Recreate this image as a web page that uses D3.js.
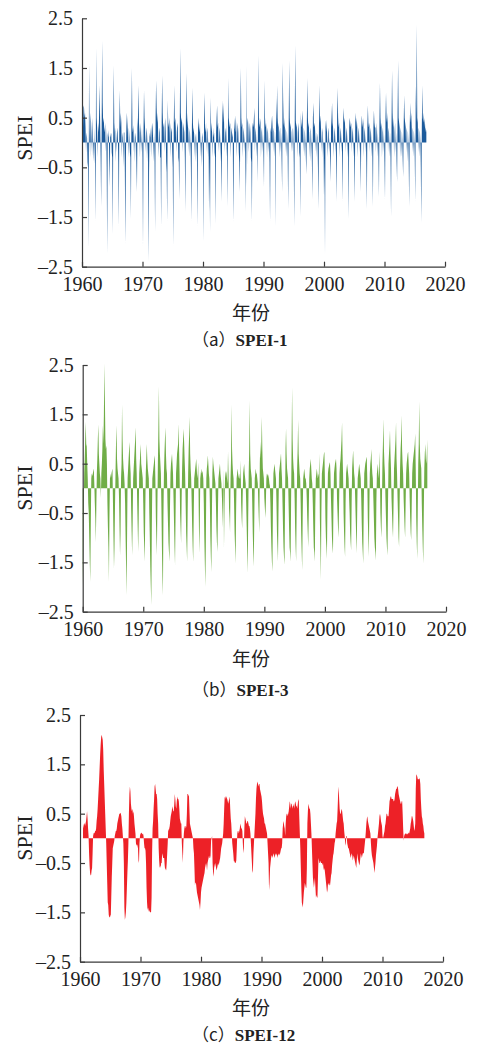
<!DOCTYPE html>
<html><head><meta charset="utf-8">
<script src="https://cdn.jsdelivr.net/npm/d3@7"></script>
<style>body{margin:0;background:#fff}svg{display:block}</style>
</head><body>
<svg id="c" width="477" height="1047"></svg>
<script>
// ---------- data ----------
const startYear = 1960;           // monthly series, Jan 1960 .. Dec 2016
const xTicks = [1960, 1970, 1980, 1990, 2000, 2010, 2020];
const yTicks = [-2.5, -1.5, -0.5, 0.5, 1.5, 2.5];
const xLabel = "年份";
const yLabel = "SPEI";
const captions = ["（a）SPEI-1", "（b）SPEI-3", "（c）SPEI-12"];

const spei1 = [
-1.6,-0.3,0.3,0.75,0.7,0.5,0.6,0.3,-0.2,0.2,0.1,-0.4,
-0.5,-2.15,1.6,0.3,-0.3,0.6,0.4,-0.2,0.5,0.2,-0.4,0.1,
-0.45,0.3,-0.5,-1.6,1.9,0.5,0.3,-0.3,0.4,0.2,0.6,1.15,
0.4,-0.3,-1.3,0.3,2.05,0.8,0.4,0.5,0.3,0.2,0.4,-0.2,
0.3,-0.5,-2.25,0.2,0.1,0.25,-0.3,-0.9,0.2,0.1,0.2,-0.2,
-0.3,-1.85,0.2,1.55,0.4,0.2,-0.4,0.3,0.1,-0.2,0.3,0.2,
-0.4,-1.7,0.3,1.05,0.3,0.6,0.4,-0.3,0.2,0.1,-0.5,0.2,
0.2,-0.6,-2.05,-0.4,0.3,0.6,0.4,0.2,-0.3,0.3,0.1,-0.2,
-0.3,-1.55,0.4,1.5,0.3,0.2,0.35,-0.2,0.2,-0.4,0.2,0.1,
-0.5,-1.0,0.3,0.5,1.15,0.4,0.2,-0.3,0.4,0.2,-0.2,0.3,
-0.3,-2.1,0.2,1.05,0.5,0.3,-0.2,0.2,0.3,-0.4,0.2,-0.3,
-2.4,-0.6,0.2,0.1,0.3,-0.3,0.2,0.4,0.3,0.1,-0.4,0.2,
-0.4,-1.8,0.5,1.25,0.7,0.4,0.6,0.2,-0.3,0.3,0.2,-0.3,
-0.3,-1.7,0.4,1.35,0.6,0.3,0.4,-0.2,0.3,0.5,0.2,-0.4,
-0.6,-1.6,0.85,0.4,0.3,0.5,0.2,-0.3,0.4,0.2,0.3,-0.2,
-0.5,-2.1,0.3,1.15,0.4,0.5,0.3,-0.2,0.2,0.4,0.3,-0.3,
-0.4,-1.15,0.5,1.9,0.6,0.4,0.5,0.3,-0.2,0.4,0.3,0.2,
-0.3,-1.4,0.4,1.4,0.5,0.3,0.6,-0.2,0.3,0.2,-0.3,0.2,
-0.5,-1.6,0.3,1.1,0.4,0.2,0.3,-0.3,0.2,0.1,-0.4,0.2,
-0.3,-1.7,0.2,0.5,0.3,0.2,0.4,-0.3,0.2,-0.5,0.1,0.2,
-0.4,-2.0,0.4,1.0,0.3,0.2,0.4,-0.2,0.3,0.2,-0.3,0.1,
-1.4,-0.3,-1.8,0.9,0.4,0.3,0.2,-0.3,0.3,0.1,0.2,-0.2,
-0.3,-1.65,0.2,0.5,0.75,0.3,0.4,-0.2,0.2,0.3,-0.4,0.2,
-0.4,-1.2,0.3,0.85,0.4,0.8,0.3,-0.2,0.3,0.2,-0.3,0.4,
-0.3,-1.3,1.3,0.5,0.4,0.3,0.4,-0.3,0.2,0.3,0.1,0.2,
-1.6,-0.5,0.5,0.3,0.2,0.55,0.3,-0.3,0.2,0.4,0.2,-0.2,
-0.4,-1.0,0.3,1.5,0.5,0.3,0.4,-0.3,0.2,0.3,-0.2,0.2,
-0.3,-1.4,1.55,-0.9,0.4,0.5,0.3,-0.2,0.2,0.4,0.2,-0.3,
-0.4,-1.6,0.3,0.4,0.3,0.5,0.7,-0.2,0.3,0.2,-0.3,0.2,
-0.8,0.3,1.75,0.4,0.3,0.5,0.4,-0.3,0.2,0.3,-0.2,0.2,
-0.3,-0.9,1.25,0.5,0.3,0.4,0.2,-0.3,0.3,0.2,-0.2,0.1,
-0.4,-1.6,0.3,0.2,0.4,0.55,0.3,-0.2,0.3,0.2,-0.3,0.2,
-1.7,0.9,0.3,1.15,0.5,0.3,0.4,-0.3,0.2,0.3,-0.2,0.2,
-0.4,-1.0,1.6,0.85,0.4,0.3,0.5,-0.2,0.3,0.2,-0.3,0.2,
-0.3,-1.35,0.4,1.65,0.5,0.3,0.4,-0.2,0.2,0.3,-0.2,0.3,
-0.4,-1.7,0.5,1.95,0.45,0.3,0.4,-0.3,0.2,0.4,0.2,-0.2,
-0.3,-1.5,0.6,0.3,0.4,0.65,0.3,-0.2,0.3,0.2,-0.3,0.2,
-0.3,-0.65,0.4,1.3,0.5,0.3,0.4,-0.3,0.2,0.3,-0.4,0.2,
-0.4,-1.15,0.5,0.8,0.3,0.4,0.3,-0.2,0.3,-0.3,0.2,0.1,
-0.5,-1.35,0.3,1.15,0.4,0.55,0.3,-0.2,0.3,0.2,-0.3,0.1,
-1.1,-0.3,-2.25,0.3,0.46,0.3,0.2,-0.3,0.2,0.3,-0.2,0.1,
-0.3,-0.8,0.3,0.5,0.8,0.4,0.3,-0.3,0.2,0.3,-0.2,0.2,
-0.4,-1.2,0.5,1.1,0.5,0.3,0.4,-0.3,0.2,0.3,-0.2,0.2,
-0.3,-1.2,0.4,0.7,0.4,0.5,0.3,-0.2,0.3,0.2,-0.3,0.2,
-0.3,-1.55,0.3,0.5,0.4,0.3,0.4,-0.2,0.3,0.2,-0.3,0.2,
-0.4,-1.2,0.4,0.6,0.3,0.5,0.3,-0.3,0.2,0.3,-0.2,0.2,
-0.3,-1.0,0.3,0.55,0.4,0.3,0.5,-0.3,0.2,0.3,-0.2,0.2,
-0.4,-1.35,0.3,0.75,0.4,0.3,0.4,-0.2,0.3,0.2,-0.3,0.2,
-0.3,-1.3,0.3,0.65,0.4,0.3,0.3,-0.2,0.2,0.4,-0.3,0.2,
-0.3,-1.1,0.4,1.2,0.5,0.3,0.4,-0.3,0.2,0.3,-0.2,0.2,
-0.4,-1.15,0.5,1.0,0.5,0.4,0.6,-0.2,0.3,0.2,-0.3,0.2,
-0.3,-1.5,0.4,1.45,0.6,0.3,0.5,-0.3,0.2,0.4,-0.2,0.2,
-0.4,-0.8,0.6,1.65,0.5,0.4,0.3,-0.3,0.3,0.2,-0.3,0.2,
-0.3,-0.7,0.3,0.95,0.5,0.4,0.3,-0.2,0.3,0.2,-0.4,0.2,
-0.4,-1.3,0.3,0.8,0.4,0.6,0.3,-0.2,0.3,0.2,-0.3,0.2,
-0.3,-1.2,1.15,0.4,2.37,0.5,0.4,-0.2,0.3,0.2,-0.3,0.2,
-0.5,-1.62,0.3,1.15,0.5,0.4,0.6,0.3,0.5,0.2,0.3,0.2
];

const spei3 = [
-2.0,-1.2,-0.4,0.3,0.6,1.0,1.35,0.9,0.85,0.5,0.2,-0.3,
-0.5,-1.0,-1.5,-1.9,-0.8,0.2,0.3,0.25,0.3,0.35,0.4,0.1,
-0.3,-0.6,-1.1,-0.4,0.3,0.6,1.0,1.3,0.7,0.5,0.3,0.2,
-0.2,0.3,0.5,0.8,1.28,0.9,1.5,2.53,1.8,1.0,0.8,0.87,
0.5,-0.3,-0.8,-1.2,-1.9,-0.6,0.2,0.3,0.2,0.3,0.35,0.4,
-0.3,-1.0,-1.63,-1.2,-0.4,0.3,0.9,1.28,0.6,0.4,0.3,0.2,
-0.2,-0.8,-1.36,-0.9,0.2,0.5,1.7,1.0,0.6,0.4,0.3,0.1,
-0.3,-1.0,-1.6,-2.17,-0.9,0.2,0.4,0.6,0.8,0.94,0.5,0.3,
-0.4,-0.9,-1.36,-0.7,0.2,0.4,0.6,0.8,1.0,1.24,0.6,0.3,
-0.3,-0.8,-1.29,-0.6,0.3,0.5,0.7,0.9,0.5,0.4,0.3,0.2,
-0.3,-0.9,-1.2,-1.49,-0.5,0.3,0.6,0.9,0.6,0.4,0.3,0.2,
-0.5,-1.0,-1.6,-2.0,-2.37,-0.8,0.2,0.3,0.4,0.5,0.6,0.67,
0.2,-0.6,-1.0,-1.36,-0.4,0.5,1.2,2.07,1.0,0.7,0.5,0.3,
-0.4,-1.2,-1.8,-2.17,-0.6,0.3,0.7,1.0,1.24,0.7,0.4,0.3,
-0.3,-0.7,-1.1,-1.3,-1.49,-0.4,0.3,0.5,0.6,0.7,0.5,0.3,
-0.2,-0.7,-1.2,-1.56,-0.6,0.3,0.5,0.7,0.8,0.9,1.31,0.8,
0.3,-0.5,-0.8,-1.12,-0.3,0.4,0.8,1.0,1.21,0.94,0.6,0.3,
-0.3,-0.9,-1.2,-1.49,-0.5,0.3,0.8,1.1,1.45,0.7,0.4,0.2,
-0.3,-0.8,-1.2,-1.5,-0.6,0.2,0.3,0.4,0.5,0.6,0.4,0.2,
0.3,0.53,-0.5,-1.32,-0.8,0.2,0.3,0.4,0.3,0.35,0.3,0.2,
-0.3,-1.0,-1.5,-2.0,-1.2,0.2,0.4,0.5,0.67,0.5,0.3,0.2,
-0.3,-1.0,-1.4,-1.7,-0.6,0.3,0.64,0.5,0.4,0.3,0.2,0.1,
-0.3,-0.8,-1.1,-1.29,-0.5,0.2,0.3,0.4,0.5,0.3,0.2,0.1,
-0.2,-0.5,-0.8,0.4,-1.22,-0.4,0.2,0.3,0.35,0.3,0.2,0.1,
0.74,0.3,-0.4,-0.6,-0.89,0.2,0.6,1.7,0.8,0.5,0.3,0.2,
-0.3,-0.9,-1.2,-1.53,-0.5,0.2,0.3,0.4,0.3,0.2,0.3,0.2,
0.2,0.57,-0.3,-0.6,-0.82,-0.2,0.3,0.4,0.5,0.3,0.2,0.1,
-0.3,-0.8,-1.3,-1.72,-0.6,0.3,0.8,1.78,0.7,0.4,0.3,0.2,
-0.3,-0.9,-1.3,-1.59,-0.7,0.2,0.3,0.4,0.3,0.3,0.2,0.1,
-0.3,-0.6,-0.9,0.5,0.95,0.6,0.9,1.45,0.8,0.4,0.3,0.2,
-0.2,-0.4,-0.6,-0.3,0.2,0.3,0.25,0.3,0.25,0.2,0.1,0.05,
-0.3,-0.8,-1.2,-1.5,-1.69,-0.4,0.3,0.4,0.5,0.4,0.3,0.2,
-0.3,-0.9,-1.2,-1.49,-0.5,0.3,0.4,0.5,0.6,0.71,0.4,0.2,
-0.3,-0.8,-1.2,-1.4,-1.55,-0.3,0.81,1.22,0.7,0.4,0.3,0.2,
-0.3,-0.8,-1.2,-1.3,-1.49,-0.3,0.9,2.05,1.0,0.6,0.4,0.3,
-0.2,-0.8,-1.2,-1.49,-0.5,0.4,0.8,1.39,0.7,0.5,0.3,0.2,
-0.3,-0.9,-1.3,-1.66,-0.6,0.2,0.3,0.4,0.3,0.2,0.2,0.1,
-0.2,-0.6,-0.9,-1.2,-0.5,0.2,0.4,0.5,0.6,0.4,0.2,0.1,
-0.3,-0.8,-1.2,-1.3,-1.49,-0.4,0.2,0.3,0.4,0.3,0.2,0.26,
0.3,0.7,-0.6,-1.2,-1.86,-0.5,0.3,0.4,0.5,0.6,0.7,0.74,
0.2,-0.6,-1.0,-1.2,-1.43,-0.4,0.3,0.4,0.45,0.5,0.53,0.3,
-0.2,-0.6,-1.0,-1.2,-1.32,-0.3,0.3,0.4,0.5,0.55,0.6,0.4,
-0.2,-0.5,-0.8,-1.0,-0.4,0.3,0.5,0.6,0.8,1.0,1.34,0.7,
0.3,-0.5,-0.9,-1.2,-1.39,-0.3,0.3,0.4,0.5,0.4,0.3,0.2,
-0.2,-0.5,-0.9,-1.1,-1.26,-0.3,0.4,0.6,0.77,0.5,0.3,0.2,
-0.2,-0.6,-1.0,-1.32,-0.5,0.2,0.3,0.4,0.5,0.4,0.3,0.2,
-0.2,-0.7,-1.1,-1.3,-1.53,-0.4,0.3,0.4,0.5,0.55,0.6,0.64,
0.2,-0.6,-1.0,-1.39,-0.5,0.3,0.5,0.6,0.8,0.5,0.3,0.2,
-0.2,-0.6,-1.0,-1.2,-1.3,-1.46,-0.3,0.3,0.4,0.5,0.3,0.2,
0.74,0.3,-0.5,-0.8,-1.0,-0.3,0.5,0.9,1.41,0.8,0.5,0.3,
-0.2,-0.6,-1.0,-1.2,-1.36,-0.4,0.5,0.7,0.9,1.18,0.7,0.4,
-0.2,-0.5,-0.8,-1.0,-0.4,0.4,0.6,0.8,1.0,1.34,0.6,0.3,
-0.2,-0.6,-1.0,-1.19,-0.4,0.4,0.8,1.0,1.48,0.8,0.5,0.3,
-0.2,-0.5,-0.8,-1.0,-0.3,0.3,0.5,0.6,0.7,0.74,0.5,0.3,
-0.2,-0.6,-0.9,-1.05,-0.4,0.3,0.5,0.6,0.7,0.8,0.9,1.11,
0.4,-0.6,-1.1,-1.43,-0.5,0.5,0.9,1.76,0.9,0.6,0.5,0.4,
-0.3,-0.8,-1.2,-1.53,-0.5,0.4,0.7,0.9,0.6,0.5,0.7,0.99
];

const spei12 = [
null,null,null,null,null,null,0.2,0.25,0.3,0.3,0.25,0.3,
0.35,0.45,0.55,0.4,0.2,0.05,-0.3,-0.55,-0.7,-0.75,-0.75,-0.65,
-0.6,-0.3,0.05,0.1,0.12,0.1,0.15,0.15,0.2,0.35,0.45,0.6,
0.8,1.0,1.2,1.45,1.7,1.9,2.05,2.1,2.05,2.0,1.8,1.4,
1.1,0.8,0.5,0.2,-0.1,-0.5,-0.9,-1.3,-1.35,-1.55,-1.6,-1.6,
-1.55,-1.6,-1.2,-0.8,-0.5,-0.2,-0.15,-0.1,-0.05,0.05,0.1,0.15,
0.15,0.2,0.3,0.35,0.4,0.45,0.5,0.5,0.52,0.5,0.45,0.3,
0.2,0.05,-0.1,-0.5,-1.4,-1.65,-1.6,-1.5,-1.3,-1.0,-0.7,-0.45,
-0.1,0.5,0.9,1.05,0.95,0.7,0.6,0.55,0.6,0.5,0.55,0.45,
0.3,0.2,0.1,-0.1,-0.15,-0.12,-0.15,-0.2,-0.45,-0.5,-0.1,0.05,
0.1,0.1,0.12,0.1,0.08,0.1,0.05,-0.1,-0.2,-0.2,-0.25,-0.5,
-1.0,-1.3,-1.45,-1.4,-1.45,-1.5,-1.45,-1.5,-1.5,-1.5,-1.2,-0.3,
0.2,0.35,0.6,0.8,1.05,1.1,1.0,0.9,0.9,0.8,0.5,0.3,
-0.2,-0.45,-0.6,-0.55,-0.6,-0.5,-0.5,-0.3,-0.35,-0.4,-0.4,-0.4,
-0.55,-0.65,-0.6,-0.65,-0.5,-0.3,-0.1,0.2,0.15,0.2,0.25,0.35,
0.45,0.5,0.55,0.65,0.6,0.55,0.55,0.7,0.9,0.8,0.65,0.6,
0.75,0.85,0.8,0.8,0.75,0.6,0.4,0.35,0.3,0.3,-0.1,-0.3,
-0.5,-0.1,0.1,0.2,0.25,0.25,0.2,0.25,0.5,0.9,0.9,0.85,
0.9,0.6,0.3,0.25,0.2,0.15,0.1,0.05,0.0,-0.2,-0.3,-0.6,
-0.95,-0.9,-0.9,-1.0,-1.1,-1.15,-1.2,-1.25,-1.3,-1.35,-1.45,-1.3,
-1.1,-1.0,-0.95,-0.9,-0.85,-0.8,-0.75,-0.7,-0.6,-0.55,-0.5,-0.55,
-0.65,-0.5,-0.45,-0.4,-0.35,-0.4,-0.4,-0.35,-0.05,0.0,0.05,-0.5,
-0.7,-0.78,-0.6,-0.55,-0.5,-0.55,-0.6,-0.65,-0.6,-0.55,-0.5,-0.55,
-0.5,-0.45,-0.4,-0.3,-0.2,-0.15,-0.1,0.0,0.1,0.3,0.6,0.85,
0.8,0.85,0.85,0.82,0.8,0.75,0.7,0.75,0.8,0.85,0.6,0.4,
0.3,0.1,-0.1,-0.2,-0.3,-0.45,-0.5,-0.45,-0.5,-0.5,-0.45,-0.2,
0.1,0.15,0.15,0.1,0.15,0.2,0.3,0.25,0.2,0.2,0.15,-0.1,
-0.3,-0.2,0.2,0.45,0.4,0.35,0.3,0.3,0.35,0.35,0.3,0.25,
0.25,0.2,0.1,-0.1,-0.3,-0.5,-0.7,-0.65,-0.3,-0.1,0.1,0.3,
0.5,0.8,1.0,1.1,1.15,1.1,1.05,1.1,1.1,1.0,0.95,0.9,
0.85,0.75,0.6,0.5,0.45,0.4,0.3,0.3,0.25,0.2,0.15,0.1,
-0.1,-0.3,-0.5,-1.05,-0.9,-0.6,-0.5,-0.4,-0.35,-0.35,-0.4,-0.35,
-0.3,-0.35,-0.4,-0.35,-0.3,-0.35,-0.3,-0.35,-0.4,-0.3,-0.35,-0.3,
-0.35,-0.3,-0.25,-0.2,-0.2,-0.1,0.2,0.3,0.35,0.25,0.2,0.05,
0.3,0.45,0.5,0.5,0.45,0.5,0.55,0.65,0.75,0.7,0.6,0.7,
0.7,0.6,0.65,0.65,0.7,0.6,0.7,0.75,0.7,0.65,0.65,0.6,
0.7,0.8,0.75,0.4,0.1,-0.2,-0.6,-1.0,-1.3,-1.35,-1.4,-1.25,
-1.1,-1.0,-0.9,-0.95,-1.0,-1.0,-0.6,0.3,0.55,0.7,0.65,0.6,
0.6,0.5,0.3,0.1,-0.2,-0.5,-0.8,-0.9,-1.0,-0.9,-0.8,-1.0,
-1.2,-1.15,-1.2,-1.2,-0.8,-0.4,-0.45,-0.5,-0.5,-0.45,-0.5,-0.5,
-0.5,-0.55,-0.5,-0.6,-0.65,-0.6,-0.7,-0.8,-0.9,-1.0,-1.1,-1.05,
-0.9,-0.95,-0.9,-0.95,-0.95,-0.85,-0.75,-0.7,-0.55,-0.45,-0.35,-0.3,
-0.2,-0.1,-0.05,0.1,0.2,0.3,0.35,0.6,0.9,1.05,0.8,0.6,
0.5,0.5,0.55,0.6,0.55,0.45,0.35,0.3,0.15,0.05,-0.1,-0.15,
0.05,0.05,-0.1,-0.15,-0.2,-0.2,-0.25,-0.3,-0.35,-0.4,-0.35,-0.3,
-0.35,-0.45,-0.4,-0.35,-0.4,-0.45,-0.5,-0.55,-0.6,-0.45,-0.3,-0.4,
-0.45,-0.5,-0.55,-0.5,-0.4,-0.3,-0.35,-0.4,-0.35,-0.3,-0.3,-0.3,
-0.2,-0.1,0.0,0.15,0.3,0.4,0.45,0.35,0.3,0.25,0.2,0.15,
0.1,-0.1,-0.25,-0.35,-0.4,-0.45,-0.5,-0.6,-0.7,-0.6,-0.5,-0.35,
-0.25,-0.15,0.0,0.1,0.2,0.3,0.45,0.5,0.45,0.35,0.3,0.25,
0.05,0.0,0.05,0.1,0.15,0.25,0.3,0.4,0.5,0.5,0.45,0.45,
0.45,0.6,0.75,0.8,0.85,0.85,0.8,0.8,0.8,0.8,0.75,0.75,
0.8,0.9,0.95,1.0,1.0,1.05,1.05,1.0,0.9,0.85,0.8,0.75,
0.7,0.7,0.75,0.75,0.5,0.2,-0.05,0.05,0.08,0.1,0.1,0.08,
0.1,0.1,0.08,0.1,0.12,0.1,0.15,0.2,0.3,0.35,0.45,0.45,
0.4,0.35,0.25,0.15,0.2,0.3,1.0,1.3,1.28,1.25,1.2,1.2,
1.2,1.22,1.2,1.1,0.8,0.6,0.45,0.4,0.3,0.25,0.15,0.1
];

// ---------- drawing ----------
const svg = d3.select("#c");
const panels = [
  {data: spei1,  color: "#1b5a9b", left: 82,   right: 445, top: 18.3, bottom: 266.7, ylabY: 138, xlabY: 313,    capY: 340},
  {data: spei3,  color: "#70ad47", left: 82.7, right: 446, top: 365,  bottom: 611.7, ylabY: 488, xlabY: 659,    capY: 690},
  {data: spei12, color: "#ed2127", left: 80,   right: 443, top: 715,  bottom: 961.7, ylabY: 838, xlabY: 1008.5, capY: 1035.5}
];
const serif = "'Liberation Serif','Times New Roman',serif";
const cjk = "'Noto Sans CJK SC','Liberation Serif',serif";
const axisColor = "#3a3a3a";

panels.forEach((p, k) => {
  const x = d3.scaleLinear().domain([1960, 2020]).range([p.left, p.right]);
  const y = d3.scaleLinear().domain([-2.5, 2.5]).range([p.bottom, p.top]);
  const pts = p.data.map((v, i) => ({t: startYear + i / 12, v: v}));
  const area = d3.area()
    .defined(d => d.v != null)
    .x(d => x(d.t))
    .y0(y(0))
    .y1(d => y(d.v));
  const g = svg.append("g");
  g.append("path").datum(pts).attr("d", area).attr("fill", p.color).attr("stroke", "none");

  // x axis
  const xa = g.append("g").attr("transform", `translate(0,${p.bottom})`)
    .call(d3.axisBottom(x).tickValues(xTicks).tickFormat(d3.format("d")).tickSizeInner(-5).tickSizeOuter(0).tickPadding(10));
  // y axis
  const ya = g.append("g").attr("transform", `translate(${p.left},0)`)
    .call(d3.axisLeft(y).tickValues(yTicks).tickFormat(d => d < 0 ? "–" + Math.abs(d) : String(d)).tickSizeInner(-5).tickSizeOuter(0).tickPadding(9));
  [xa, ya].forEach(a => {
    a.select(".domain").attr("stroke", axisColor).attr("stroke-width", 1.2);
    a.selectAll(".tick line").attr("stroke", axisColor).attr("stroke-width", 1.2);
    a.selectAll(".tick text").attr("fill", "#222").style("font-family", serif).style("font-size", "20px");
  });
  xa.selectAll(".tick text").attr("dy", "0.72em");

  // labels
  svg.append("text").attr("transform", `translate(32,${p.ylabY}) rotate(-90)`)
    .attr("text-anchor", "middle").style("font-family", serif).style("font-size", "22px").attr("fill", "#222").text(yLabel);
  svg.append("text").attr("x", 251).attr("y", p.xlabY).attr("dy", "0.35em")
    .attr("text-anchor", "middle").style("font-family", cjk).style("font-size", "19px").attr("fill", "#222").text(xLabel);
  svg.append("text").attr("x", 192).attr("y", p.capY).attr("dy", "0.35em")
    .attr("text-anchor", "start").style("font-family", cjk).style("font-size", "17px").attr("fill", "#222")
    .call(t => {
      const m = captions[k].match(/^(（.）)(.*)$/);
      t.append("tspan").style("font-family", cjk).text(m[1]);
      t.append("tspan").style("font-family", serif).style("font-weight", "bold").style("font-size", "17px").text(m[2]);
    });
});
</script>
</body></html>
